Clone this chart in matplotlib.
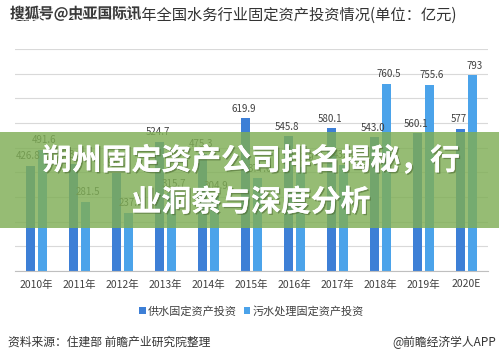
import matplotlib
matplotlib.use("Agg")
import matplotlib.pyplot as plt
import matplotlib.patheffects as pe
from matplotlib.patches import Rectangle
import numpy as np

plt.rcParams['font.family'] = ['Noto Sans CJK SC', 'DejaVu Sans']

# data (亿元)
years = ["2010年", "2011年", "2012年", "2013年", "2014年", "2015年",
         "2016年", "2017年", "2018年", "2019年", "2020E"]
supply = [426.8, 433.0, 398.0, 524.7, 475.3, 619.9, 545.8, 580.1, 543.0, 560.1, 577.0]
sewage = [491.6, 281.5, 237.4, 315.7, 304.9, 377.0, 421.9, 432.0, 760.5, 755.6, 793.0]
supply_lbl = ["426.8", "433.0", "398.0", "524.7", "475.3", "619.9", "545.8", "580.1", "543.0", "560.1", "577"]
sewage_lbl = ["491.6", "281.5", "237.4", "315.7", "304.9", "377.0", "421.9", "432.0", "760.5", "755.6", "793"]
legend_names = ["供水固定资产投资", "污水处理固定资产投资"]

c_dark = "#3d7fd6"
c_light = "#4ba3ea"

fig = plt.figure(figsize=(4.99, 3.61), dpi=100)
ax = fig.add_axes([0.030, 0.249, 0.948, 0.615])

x = np.arange(len(years))
w = 0.21
ax.bar(x - 0.135, supply, w, color=c_dark, zorder=2, label=legend_names[0])
ax.bar(x + 0.135, sewage, w, color=c_light, zorder=2, label=legend_names[1])

for xi, v, t in zip(x - 0.135, supply, supply_lbl):
    ax.text(xi - 0.05, v + 18, t, ha="center", va="bottom", fontsize=7, color="#404040")
for xi, v, t in zip(x + 0.135, sewage, sewage_lbl):
    ax.text(xi + 0.05, v + 18, t, ha="center", va="bottom", fontsize=7, color="#404040")

ax.set_xlim(-0.5, len(years) - 0.5)
ax.set_ylim(0, 900)
ax.set_yticks(np.arange(0, 901, 100))
ax.yaxis.grid(True, color="#d9d9d9", linewidth=0.8, zorder=0)
ax.set_yticklabels([])
ax.tick_params(axis="y", length=0)
ax.tick_params(axis="x", length=0, pad=6, labelsize=7.5, labelcolor="#404040")
ax.set_xticks(x)
ax.set_xticklabels(years)
for s in ["top", "right", "left"]:
    ax.spines[s].set_visible(False)
ax.spines["bottom"].set_color("#bfbfbf")

ax.legend(loc="upper center", bbox_to_anchor=(0.5, -0.11), ncol=2, frameon=False,
          fontsize=8, handlelength=0.6, handleheight=0.6, handletextpad=0.2,
          columnspacing=0.6, labelcolor="#404040")

# title with watermark on top
fig.text(0.03, 0.958, "图表7：2010-2020年全国水务行业固定资产投资情况(单位：亿元)",
         fontsize=11, color="#333333", va="center", ha="left")
fig.text(0.02, 0.962, "搜狐号@中亚国际讯", fontsize=10.5, color="#1a1a1a",
         va="center", ha="left", fontweight="bold", alpha=0.85,
         path_effects=[pe.withStroke(linewidth=2, foreground="white")])

# footer
fig.text(0.016, 0.052, "资料来源：住建部 前瞻产业研究院整理", fontsize=8.5, color="#333333", va="center")
fig.text(0.995, 0.052, "@前瞻经济学人APP", fontsize=8.5, color="#333333", va="center", ha="right")

# green banner overlay
fig.patches.append(Rectangle((0, (361 - 228) / 361), 1, 96 / 361, transform=fig.transFigure,
                             facecolor="#7fae55", alpha=0.82, zorder=5, edgecolor="none"))
shadow = [pe.withSimplePatchShadow(offset=(1, -1), shadow_rgbFace="#4d6b33", alpha=0.6), pe.Normal()]
fig.text(0.503, 0.555, "朔州固定资产公司排名揭秘，行", fontsize=21.5, fontweight="bold",
         color="white", ha="center", va="center", zorder=6, path_effects=shadow)
fig.text(0.503, 0.44, "业洞察与深度分析", fontsize=21.5, fontweight="bold",
         color="white", ha="center", va="center", zorder=6, path_effects=shadow)

fig.savefig("out.png", dpi=100)
